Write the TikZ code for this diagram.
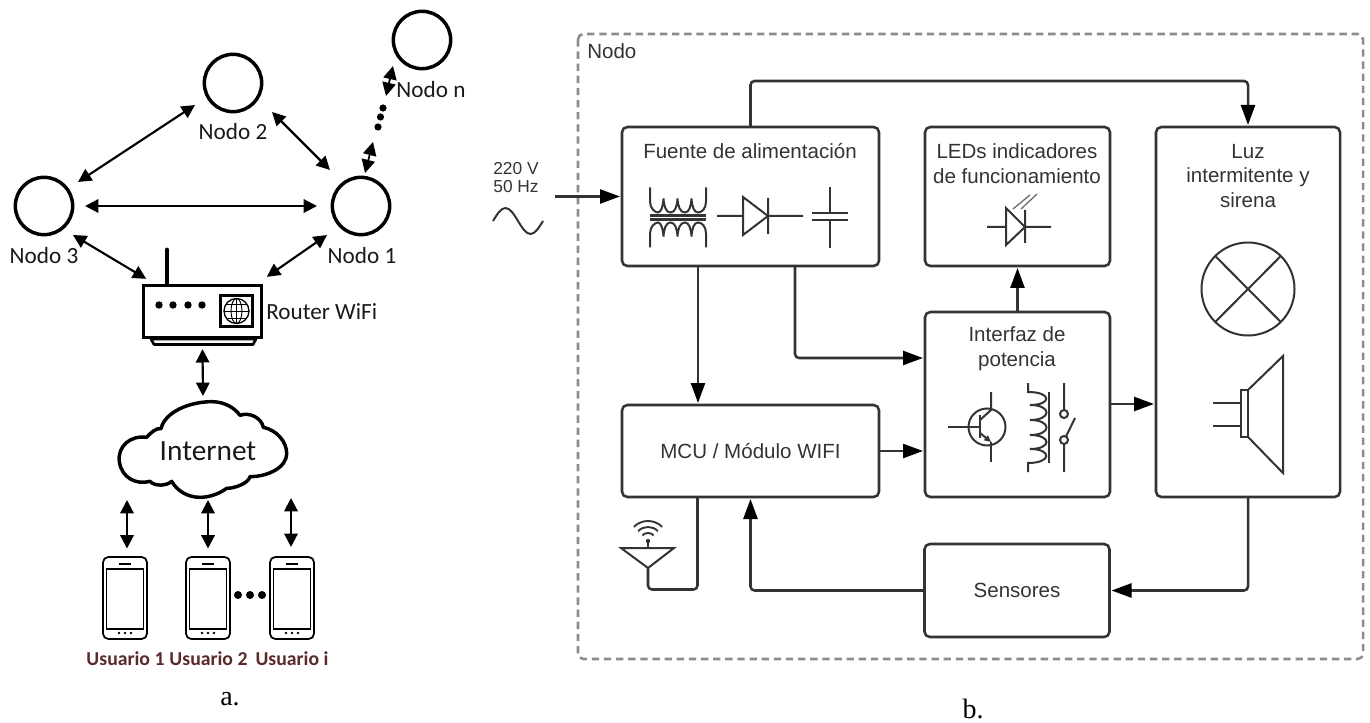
\documentclass[tikz,border=0pt]{standalone}
\usepackage{fontspec}
\usetikzlibrary{arrows.meta,calc}
\setmainfont{Liberation Serif}
\newfontfamily\carl{Carlito}
\newfontfamily\arl{Liberation Sans}
\definecolor{dk}{HTML}{333333}
\definecolor{gr}{HTML}{8C8C8C}
\definecolor{us}{HTML}{5A2A2A}
\tikzset{
  nodec/.style={circle,draw=black,line width=2.6pt,minimum size=43pt,inner sep=0,outer sep=0},
  lbl/.style={font=\carl\fontsize{17.4pt}{20pt}\selectfont,inner sep=0,text=black!90},
  ulbl/.style={font=\carl\bfseries\fontsize{14.8pt}{16pt}\selectfont,inner sep=0,text=us},
  capt/.style={font=\fontsize{21pt}{24pt}\selectfont,inner sep=0},
  dbl/.style={line width=1.6pt,{Triangle[length=10pt,width=10pt]}-{Triangle[length=10pt,width=10pt]}},
  bx/.style={draw=dk,line width=1.9pt,rounded corners=4pt,inner sep=0,outer sep=0,align=center,
    font=\arl\fontsize{15.4pt}{18.4pt}\selectfont,text=dk},
  ttl/.style={font=\arl\fontsize{15.4pt}{18.4pt}\selectfont,text=dk,inner sep=0,align=center},
  wire/.style={draw=dk,line width=1.9pt,rounded corners=3pt},
  tipd/.style={-{Triangle[length=15pt,width=10.5pt,color=black]}},
  ico/.style={draw=dk,line width=1.5pt},
  phone/.style={draw=black,line width=1.3pt,rounded corners=4pt,minimum width=33pt,minimum height=61.5pt,inner sep=0,outer sep=0},
}
\newcommand{\windingpath}{(650,-30) -- (650,-16) .. controls (650,-9) and (655,-5) .. (658,-5)
 .. controls (661,-5) and (663,-11) .. (663.5,-19) .. controls (664,-11) and (666,-5) .. (670.5,-5)
 .. controls (675,-5) and (677,-11) .. (677.5,-19) .. controls (678,-11) and (680,-5) .. (685,-5)
 .. controls (689,-5) and (691,-11) .. (691.5,-19) .. controls (692,-11) and (694,-5) .. (698,-5)
 .. controls (702,-5) and (706,-9) .. (706,-16) -- (706,-30)}
\begin{document}
\begin{tikzpicture}[x=.75pt,y=-.75pt]
\useasboundingbox (0,0) rectangle (1370,723);
%% ---------- a. ----------
\node[nodec] (n3) at (44,206) {};
\node[nodec] (n2) at (233,83) {};
\node[nodec] (n1) at (361,206) {};
\node[nodec] (nn) at (422,40) {};
\node[lbl] (l3) at (44,256) {Nodo 3};
\node[lbl] (l2) at (233,132) {Nodo 2};
\node[lbl] (l1) at (362,256) {Nodo 1};
\node[lbl] (ln) at (431,90) {Nodo n};
% router
\draw[black,line width=3.7pt,line cap=round] (167,250) -- (167,286);
\node[draw=black,line width=2.3pt,minimum width=89pt,minimum height=38.5pt,inner sep=0,outer sep=0,fill=white] (rt) at (202.5,311.5) {};
\draw[black,line width=2pt,line join=round] (151,339) -- (154,344.5) -- (253,344.5) -- (256,339) -- cycle;
\foreach \x in {159,173,188,202} \fill[black] (\x,305) circle (3.7);
\node[draw=black,line width=2.3pt,minimum width=24pt,minimum height=23.5pt,inner sep=0] (gb) at (236.5,311) {};
\draw[black,line width=1pt] (gb.center) circle (12.5);
\begin{scope}
\clip (gb.center) circle (12.5);
\draw[black,line width=.7pt] (gb.center) ellipse (5.5 and 12.5);
\draw[black,line width=.7pt] (224,311) -- (249,311) (224,304) -- (249,304) (224,318) -- (249,318) (236.5,298) -- (236.5,324);
\end{scope}
\node[lbl,anchor=west] (lr) at (266,312) {Router WiFi};
% cloud
\begin{scope}[shift={(0,340)},xscale=.33333,yscale=.33333]
\draw[black,line width=2.6pt,line join=round] (358,365) .. controls (352,320) and (390,285) .. (440,292)
 .. controls (450,280) and (470,262) .. (483,266)
 .. controls (495,215) and (570,185) .. (635,185)
 .. controls (675,185) and (705,205) .. (720,226)
 .. controls (750,215) and (785,235) .. (790,262)
 .. controls (830,270) and (860,305) .. (860,340)
 .. controls (860,385) and (800,410) .. (750,410)
 .. controls (745,430) and (705,445) .. (680,445)
 .. controls (660,460) and (630,472) .. (600,472)
 .. controls (560,472) and (530,450) .. (515,424)
 .. controls (500,438) and (465,440) .. (450,424)
 .. controls (410,435) and (365,415) .. (358,365) -- cycle;
\end{scope}
\node[font=\carl\fontsize{22pt}{26pt}\selectfont,inner sep=0,text=black!90] (inet) at (208,451) {Internet};
% phones
\foreach \i/\x in {1/125,2/208,3/292}{
  \node[phone] (p\i) at (\x,598) {};
  \draw[black,line width=1.1pt] (\x-18.5,569) rectangle (\x+18.5,629);
  \draw[black,line width=1.3pt] (\x-6,564) -- (\x+6,564);
  \foreach \d in {-6,0,6} \fill[black] (\x+\d,633) circle (1.3);
}
\foreach \x in {238,250,262} \fill[black] (\x,595) circle (4);
\node[ulbl] (u1) at (125.5,659) {Usuario 1};
\node[ulbl] (u2) at (208.5,659) {Usuario 2};
\node[ulbl] (u3) at (292,659) {Usuario i};
\node[capt] (ca) at (230,699) {a.};
% dots Nodo 1 .. Nodo n
\node[circle,fill=black,minimum size=5.4pt,inner sep=0] (d1) at (383,108) {};
\node[circle,fill=black,minimum size=5.4pt,inner sep=0] (d2) at (380.5,117) {};
\node[circle,fill=black,minimum size=5.4pt,inner sep=0] (d3) at (378,127) {};
% arrows a
\draw[dbl] ([shift={(34,-24)}]n3.center) -- ([shift={(-38,22)}]n2.center);
\draw[dbl] ([shift={(39,29)}]n2.center) -- ([shift={(-31,-36)}]n1.center);
\draw[dbl] ([shift={(41,0)}]n3.center) -- ([shift={(-44,0)}]n1.center);
\draw[dbl] ([shift={(29,29)}]n3.center) -- ([shift={(3,-7)}]rt.north west);
\draw[dbl] ([shift={(-34,29)}]n1.center) -- ([shift={(5,-9)}]rt.north east);
\draw[dbl,line width=1.3pt] ([shift={(4,-33)}]n1.center) -- ([shift={(-5,15)}]d3.center);
\draw[dbl,line width=1.3pt] ([shift={(3,-12)}]d1.center) -- ([shift={(-29,26)}]nn.center);
\draw[dbl] ([shift={(0,12)}]rt.south) -- ([shift={(-5,-55)}]inet.center);
\draw[dbl] ([shift={(2,-49.5)}]p1.center) -- ([shift={(-81,49)}]inet.center);
\draw[dbl] ([shift={(0,-49.5)}]p2.center) -- ([shift={(0,49)}]inet.center);
\draw[dbl] ([shift={(-1,-51)}]p3.center) -- ([shift={(83,47)}]inet.center);
%% ---------- b. ----------
\draw[gr,line width=1.9pt,dash pattern=on 5.5pt off 3.6pt,rounded corners=4pt] (578,34) rectangle (1363,659);
\node[ttl,anchor=west] (tn) at (587,51) {Nodo};
\node[bx,minimum width=192.75pt,minimum height=104.25pt] (fu) at (750.5,196.5) {};
\node[bx,minimum width=138.75pt,minimum height=104.25pt] (le) at (1017.5,196.5) {};
\node[bx,minimum width=138pt,minimum height=277.5pt] (lu) at (1248,312) {};
\node[bx,minimum width=138.75pt,minimum height=138.75pt] (in) at (1017.5,404.5) {};
\node[bx,minimum width=192.75pt,minimum height=69pt] (mc) at (750.5,451) {MCU / Módulo WIFI};
\node[bx,minimum width=138.75pt,minimum height=69.75pt] (se) at (1017,590.5) {Sensores};
\node[ttl] (tf) at (750,151) {Fuente de alimentación};
\node[ttl] (tl) at (1017,163.5) {LEDs indicadores\\de funcionamiento};
\node[ttl] (tu) at (1248,176) {Luz\\intermitente y\\sirena};
\node[ttl] (ti) at (1017,348.5) {Interfaz de\\potencia};
\node[capt] (cb) at (973,708.5) {b.};
% supply
\node[ttl,font=\arl\fontsize{13pt}{13.9pt}\selectfont] (v) at (516,177.5) {220 V\\50 Hz};
\coordinate (ac) at (555,196.5);
\draw[ico] (493,221) sin (505.5,208) cos (518,221) sin (530.5,234) cos (543,221);
% connectors b
\draw[wire,tipd] (ac) -- ([shift={(-2,0)}]fu.west);
\draw[wire,tipd] (fu.north) -- ++(0,-46) -| ([shift={(0,-2)}]lu.north);
\draw[wire,tipd] ([shift={(-52.5,0)}]fu.south) -- ([shift={(-52.5,-2)}]mc.north);
\draw[wire,tipd] ([shift={(44.5,0)}]fu.south) |- ([shift={(-2,-46.5)}]in.west);
\draw[wire,tipd] (mc.east) -- ([shift={(-2,46.5)}]in.west);
\draw[wire,tipd] (in.north) -- ([shift={(0,2)}]le.south);
\draw[wire,tipd] ([shift={(0,-.5)}]in.east) -- ([shift={(-2,92)}]lu.west);
\draw[wire,tipd] (lu.south) |- ([shift={(2,0)}]se.east);
\draw[wire,tipd] (se.west) -| ([shift={(0,2)}]mc.south);
\coordinate (ant) at (648,568);
\draw[wire] ([shift={(-53,0)}]mc.south) -- ++(0,92.5) -| (ant);
% antenna
\draw[ico,line join=miter,line width=1.5pt] (621,548) -- (674,548) -- (ant) -- cycle;
\fill[dk] (648,541) circle (2.2);
\draw[dk,line width=1.3pt] (648,548) -- (648,541);
\foreach \r in {8,14,20}
  \draw[dk,line width=1.4pt] ($(648,541)+(-45:\r)$) arc[start angle=-45,end angle=-135,radius=\r];
% transformer
\begin{scope}[shift={(0,217.5)}]
\draw[ico] \windingpath;
\end{scope}
\begin{scope}[shift={(0,217.5)},yscale=-1]
\draw[ico] \windingpath;
\end{scope}
\draw[ico,line width=1.8pt] (650,215.5) -- (706,215.5) (650,219.5) -- (706,219.5);
% diode
\draw[ico] (717,216) -- (743,216) (743,197) -- (768,216) -- (743,235) -- cycle (768,198) -- (768,234) (768,216) -- (803,216);
% capacitor
\draw[ico] (830,187) -- (830,213.5) (812,213.5) -- (848,213.5) (812,220) -- (848,220) (830,220) -- (830,248);
% LED
\draw[ico] (987,227) -- (1006,227) (1006,208) -- (1025,227) -- (1006,245) -- cycle (1025,210) -- (1025,243) (1025,227) -- (1051,227);
\draw[gr!80!black,line width=1pt] (1013,209) -- (1030,195) (1021,209) -- (1037,194);
% transistor
\draw[ico] (987,427) circle (18.5);
\draw[ico] (948,427) -- (980,427);
\draw[ico,line width=1.8pt] (980,415) -- (980,438);
\draw[ico] (980,420) -- (991,410) -- (991,392);
\draw[ico,-{Triangle[length=5pt,width=4.5pt]}] (980,433) -- (991,442);
\draw[ico] (991,442) -- (991,462);
% relay
\draw[ico] (1028,383) -- (1028,392) .. controls (1052,392) and (1052,405) .. (1030,405)
 .. controls (1052,405) and (1052,420) .. (1030,420)
 .. controls (1052,420) and (1052,435) .. (1030,435)
 .. controls (1052,435) and (1052,449) .. (1030,449)
 .. controls (1052,449) and (1052,463) .. (1028,463) -- (1028,472);
\draw[ico,line width=1.6pt] (1049,392) -- (1049,463);
\draw[ico] (1064,383) -- (1064,410) (1064,414) circle (4) (1064,440) circle (4) (1064,444) -- (1064,472) (1066,436.5) -- (1075,418);
% lamp
\draw[ico] (1248,289) circle (46.5);
\draw[ico] (1215.1,255.9) -- (1280.9,322.1) (1215.1,322.1) -- (1280.9,255.9);
% speaker
\draw[ico] (1213,403) -- (1241,403) (1213,426) -- (1241,426) (1241,390) rectangle (1248,437);
\draw[ico] (1248,390) -- (1283,356) -- (1283,473) -- (1248,437);
\end{tikzpicture}
\end{document}
